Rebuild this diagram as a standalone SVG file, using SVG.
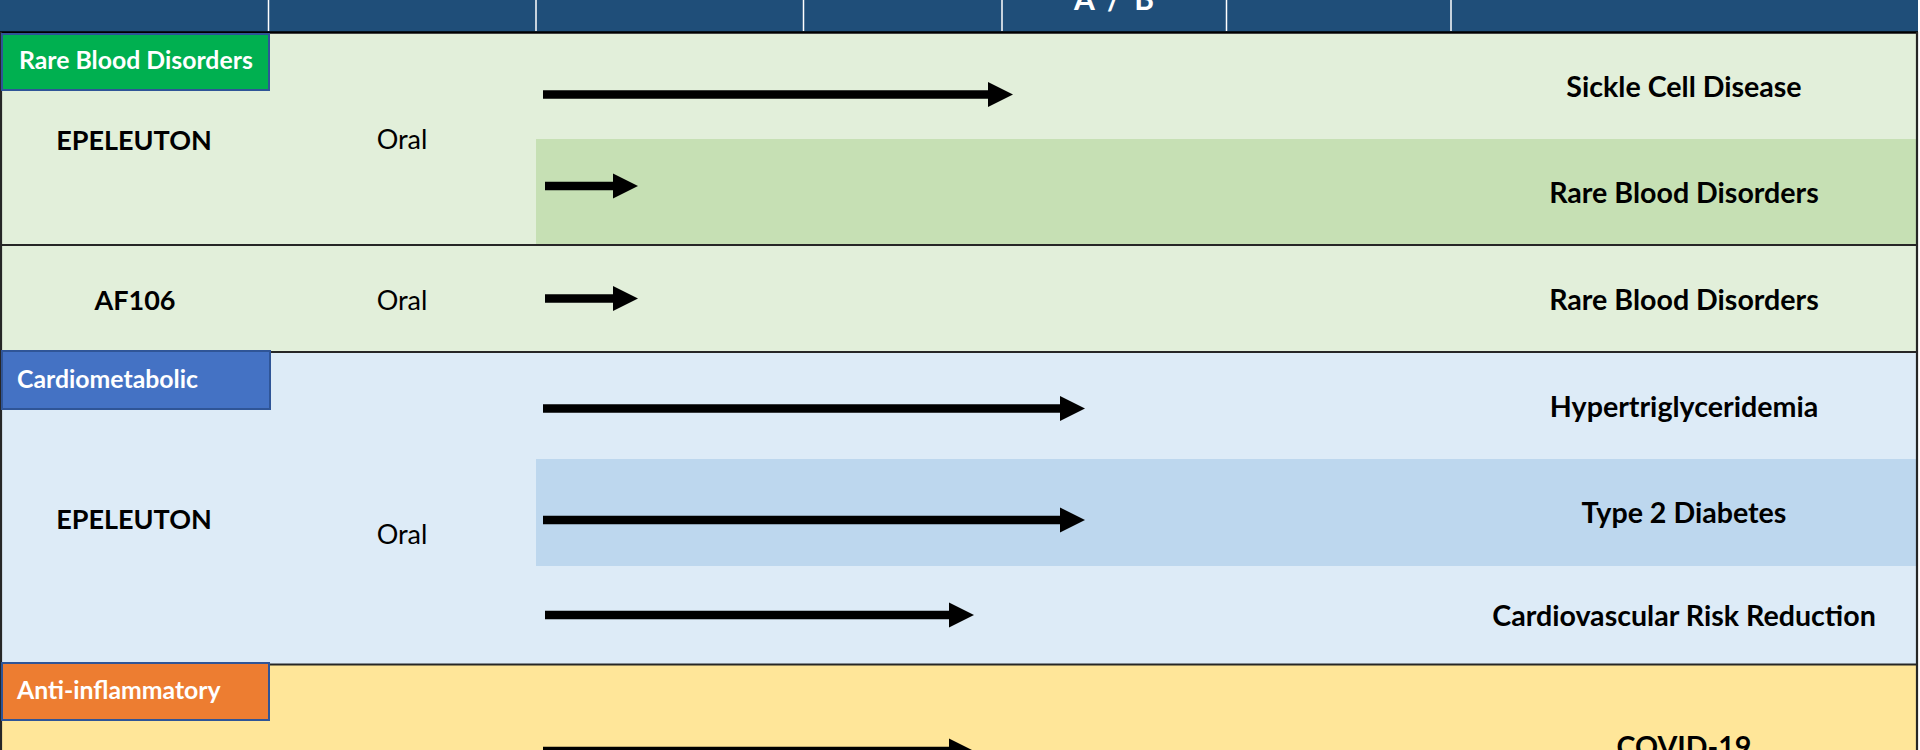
<svg xmlns="http://www.w3.org/2000/svg" width="1920" height="750" viewBox="0 0 1920 750">
<style>
.hdr{fill:#1F4E79}
.sep{stroke:#FFFFFF;stroke-width:1.5}
.rule{stroke:#262626;stroke-width:2.2}
.lbl{stroke:#2F5597;stroke-width:2}
.lt{font-family:Lato,"Liberation Sans",sans-serif;font-weight:bold;font-size:24.8px;fill:#FFFFFF}
.drug{font-family:Lato,"Liberation Sans",sans-serif;font-weight:bold;font-size:27px;fill:#000000;text-anchor:middle}
.route{font-family:Lato,"Liberation Sans",sans-serif;font-size:27px;fill:#000000;text-anchor:middle}
.ind{font-family:Lato,"Liberation Sans",sans-serif;font-weight:bold;font-size:28.6px;fill:#000000;text-anchor:middle}
.ht{font-family:Lato,"Liberation Sans",sans-serif;font-weight:bold;font-size:30px;fill:#FFFFFF;text-anchor:middle}
.arr{stroke:#000000;stroke-width:8.5;marker-end:url(#head)}
</style>
<defs>
<marker id="head" markerUnits="userSpaceOnUse" markerWidth="26" markerHeight="26" refX="0" refY="12.5" orient="auto" overflow="visible">
<path d="M0,0 L25,12.5 L0,25 Z" fill="#000000"/>
</marker>
</defs>
<rect x="0" y="0" width="1920" height="750" fill="#FFFFFF"/>
<g id="header">
<rect class="hdr" x="0" y="0" width="1918" height="32"/>
<line class="sep" x1="268.5" y1="0" x2="268.5" y2="31"/>
<line class="sep" x1="536" y1="0" x2="536" y2="31"/>
<line class="sep" x1="803.5" y1="0" x2="803.5" y2="31"/>
<line class="sep" x1="1002" y1="0" x2="1002" y2="31"/>
<line class="sep" x1="1226.5" y1="0" x2="1226.5" y2="31"/>
<line class="sep" x1="1451" y1="0" x2="1451" y2="31"/>
<text class="ht" x="1114" y="10" word-spacing="6">A / B</text>
<line x1="0" y1="32.5" x2="1918" y2="32.5" stroke="#000000" stroke-width="2.5"/>
</g>
<g id="row-epeleuton-rbd">
<rect x="1" y="34" width="1916" height="211" fill="#E2EFDA"/>
<rect x="536" y="139" width="1381" height="106" fill="#C6E0B4"/>
<text class="drug" x="134" y="150">EPELEUTON</text>
<text class="route" x="402" y="149">Oral</text>
<text class="ind" x="1684" y="97">Sickle Cell Disease</text>
<text class="ind" x="1684" y="203">Rare Blood Disorders</text>
</g>
<g id="row-af106">
<rect x="1" y="245" width="1916" height="107" fill="#E2EFDA"/>
<text class="drug" x="135" y="310">AF106</text>
<text class="route" x="402" y="310">Oral</text>
<text class="ind" x="1684" y="310">Rare Blood Disorders</text>
</g>
<g id="row-epeleuton-cardio">
<rect x="1" y="352" width="1916" height="312" fill="#DDEBF7"/>
<rect x="536" y="459" width="1381" height="107" fill="#BDD7EE"/>
<text class="drug" x="134" y="529">EPELEUTON</text>
<text class="route" x="402" y="544">Oral</text>
<text class="ind" x="1684" y="417">Hypertriglyceridemia</text>
<text class="ind" x="1684" y="523">Type 2 Diabetes</text>
<text class="ind" x="1684" y="626">Cardiovascular Risk Reduction</text>
</g>
<g id="row-anti">
<rect x="1" y="664" width="1916" height="90" fill="#FFE699"/>
<text class="ind" x="1684" y="757">COVID-19</text>
</g>
<g id="borders">
<line class="rule" x1="0" y1="245" x2="1918" y2="245"/>
<line class="rule" x1="0" y1="352" x2="1918" y2="352"/>
<line class="rule" x1="0" y1="664.5" x2="1918" y2="664.5"/>
<line class="rule" x1="1" y1="32" x2="1" y2="750"/>
<line class="rule" x1="1917" y1="32" x2="1917" y2="750"/>
</g>
<g id="label-rbd">
<rect class="lbl" x="2" y="34" width="267" height="56" fill="#00B050"/>
<text class="lt" x="19" y="69">Rare Blood Disorders</text>
</g>
<g id="label-cardio">
<rect class="lbl" x="2" y="351" width="268" height="58" fill="#4472C4"/>
<text class="lt" x="17" y="388">Cardiometabolic</text>
</g>
<g id="label-anti">
<rect class="lbl" x="2" y="663" width="267" height="57" fill="#ED7D31"/>
<text class="lt" x="17" y="699">Anti-inflammatory</text>
</g>
<g id="connectors">
<line class="arr" x1="543" y1="94.5" x2="988" y2="94.5"/>
<line class="arr" x1="545" y1="186" x2="613" y2="186"/>
<line class="arr" x1="545" y1="298.5" x2="613" y2="298.5"/>
<line class="arr" x1="543" y1="408.5" x2="1060" y2="408.5"/>
<line class="arr" x1="543" y1="520" x2="1060" y2="520"/>
<line class="arr" x1="545" y1="615" x2="949" y2="615"/>
<line class="arr" x1="543" y1="751" x2="949" y2="751"/>
</g>
</svg>
